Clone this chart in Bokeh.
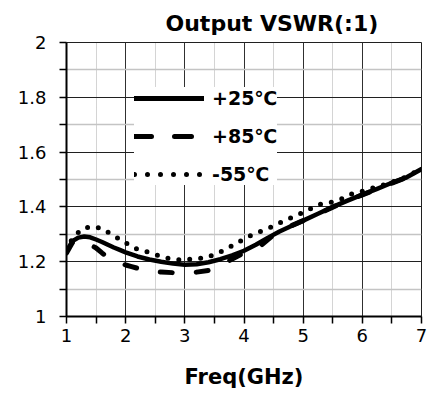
from bokeh.plotting import figure
from bokeh.models import Range1d, FixedTicker, Legend, LegendItem
from bokeh.embed import file_html
from bokeh.resources import INLINE

# ---- data ----
FREQ_25 = [1.0, 1.1, 1.2, 1.3, 1.4, 1.5, 1.6, 1.7, 1.8, 1.9, 2.0, 2.2, 2.4, 2.6, 2.8,
           3.0, 3.2, 3.4, 3.6, 3.8, 4.0, 4.2, 4.4, 4.6, 4.8, 5.0, 5.25, 5.5, 5.75,
           6.0, 6.25, 6.5, 6.75, 7.0]
VSWR_25 = [1.238, 1.275, 1.288, 1.292, 1.289, 1.281, 1.272, 1.262, 1.252, 1.243, 1.234,
           1.219, 1.208, 1.200, 1.193, 1.189, 1.191, 1.198, 1.209, 1.223, 1.240, 1.262,
           1.287, 1.310, 1.330, 1.350, 1.375, 1.400, 1.423, 1.445, 1.466, 1.488, 1.508,
           1.538]

FREQ_85 = [1.0, 1.1, 1.2, 1.3, 1.4, 1.5, 1.6, 1.7, 1.8, 1.9, 2.0, 2.1, 2.2, 2.3, 2.4,
           2.6, 2.8, 3.0, 3.2, 3.4, 3.6, 3.8, 4.0, 4.2, 4.3, 4.5, 4.7, 5.0, 5.25, 5.5,
           5.75, 6.0, 6.25, 6.5, 6.75, 7.0]
VSWR_85 = [1.232, 1.270, 1.280, 1.275, 1.262, 1.250, 1.232, 1.216, 1.205, 1.196, 1.188,
           1.182, 1.176, 1.172, 1.168, 1.162, 1.160, 1.160, 1.162, 1.168, 1.185, 1.210,
           1.232, 1.250, 1.262, 1.298, 1.322, 1.350, 1.374, 1.399, 1.422, 1.444, 1.465,
           1.487, 1.508, 1.538]

FREQ_M55 = [1.0, 1.1, 1.26, 1.44, 1.62, 1.78, 1.95, 2.1, 2.26, 2.43, 2.6, 2.78, 2.96,
            3.15, 3.34, 3.52, 3.7, 3.87, 4.05, 4.21, 4.4, 4.57, 4.75, 4.92, 5.09, 5.26,
            5.44, 5.63, 5.79, 5.96, 6.2, 6.5, 6.75, 7.0]
VSWR_M55 = [1.240, 1.285, 1.320, 1.329, 1.320, 1.296, 1.277, 1.254, 1.240, 1.233, 1.218,
            1.210, 1.205, 1.211, 1.213, 1.228, 1.246, 1.267, 1.289, 1.305, 1.320, 1.338,
            1.356, 1.372, 1.389, 1.408, 1.415, 1.427, 1.445, 1.455, 1.470, 1.490, 1.510,
            1.540]

SERIES = ["+25\u2103", "+85\u2103", "-55\u2103"]
X_TICKS = [1, 2, 3, 4, 5, 6, 7]
X_MINOR = [1.5, 2.5, 3.5, 4.5, 5.5, 6.5]
Y_TICKS = [1, 1.2, 1.4, 1.6, 1.8, 2]
Y_MINOR = [1.1, 1.3, 1.5, 1.7, 1.9]
Y_LABELS = ["1", "1.2", "1.4", "1.6", "1.8", "2"]
TITLE = "Output VSWR(:1)"
X_LABEL = "Freq(GHz)"

FONT = "DejaVu Sans"
NAN = float("nan")

p = figure(width=427, height=394, output_backend="svg", toolbar_location=None,
           x_range=Range1d(1, 7), y_range=Range1d(1, 2),
           min_border_left=66, min_border_right=6, min_border_top=42,
           min_border_bottom=78, title=TITLE)

p.background_fill_color = "white"
p.border_fill_color = "white"
p.outline_line_color = "#202020"
p.outline_line_width = 1

p.title.text_font = FONT
p.title.text_font_style = "bold"
p.title.text_font_size = "22px"
p.title.text_color = "black"
p.title.align = "left"
p.title.offset = 99
p.title.standoff = 13

# axes
p.xaxis.ticker = FixedTicker(ticks=X_TICKS, minor_ticks=X_MINOR)
p.yaxis.ticker = FixedTicker(ticks=Y_TICKS, minor_ticks=Y_MINOR)
p.yaxis.major_label_overrides = dict(zip(Y_TICKS, Y_LABELS))
for ax in (p.xaxis, p.yaxis):
    ax.axis_line_color = "black"
    ax.axis_line_width = 2
    ax.major_tick_line_color = "black"
    ax.minor_tick_line_color = "black"
    ax.major_tick_line_width = 1.5
    ax.minor_tick_line_width = 1.5
    ax.major_tick_in = 0
    ax.major_tick_out = 7
    ax.minor_tick_in = 0
    ax.minor_tick_out = 7
    ax.major_label_text_font = FONT
    ax.major_label_text_font_size = "18px"
    ax.major_label_text_color = "black"
p.yaxis.major_label_standoff = 13
p.xaxis.major_label_standoff = 5
p.xaxis.axis_label = X_LABEL
p.xaxis.axis_label_text_font = FONT
p.xaxis.axis_label_text_font_style = "bold"
p.xaxis.axis_label_text_font_size = "21px"
p.xaxis.axis_label_text_color = "black"
p.xaxis.axis_label_standoff = 20

# grids
p.xgrid.grid_line_color = "#303030"
p.xgrid.grid_line_width = 1
p.xgrid.minor_grid_line_color = "#a8a8a8"
p.xgrid.minor_grid_line_dash = "1 1"
p.xgrid.minor_grid_line_width = 1
p.ygrid.grid_line_color = "#202020"
p.ygrid.grid_line_width = 1
p.ygrid.minor_grid_line_color = "#c4c4c4"
p.ygrid.minor_grid_line_width = 1.5

# data lines
p.line(FREQ_M55, VSWR_M55, line_color="black", line_width=5, line_dash="0 11",
       line_cap="round")
p.line(FREQ_85, VSWR_85, line_color="black", line_width=5, line_dash="12 24",
       line_cap="round")
p.line(FREQ_25, VSWR_25, line_color="black", line_width=4.5, line_cap="round",
       line_join="round")

# legend-only renderers (a single NaN point, nothing drawn) carrying legend glyph styles
lg25 = p.line([NAN], [NAN], line_color="black", line_width=5, line_cap="round")
lg85 = p.line([NAN], [NAN], line_color="black", line_width=5, line_dash="17 23",
              line_cap="round")
lg55 = p.line([NAN], [NAN], line_color="black", line_width=5, line_dash="0 13",
              line_cap="round")

legend = Legend(items=[LegendItem(label=SERIES[0], renderers=[lg25]),
                       LegendItem(label=SERIES[1], renderers=[lg85]),
                       LegendItem(label=SERIES[2], renderers=[lg55])],
                location=(68, 131), orientation="vertical",
                glyph_width=70, glyph_height=20, label_height=20,
                spacing=16, padding=10, label_standoff=8, margin=0,
                background_fill_color="white", background_fill_alpha=1,
                border_line_color=None,
                label_text_font=FONT, label_text_font_style="bold",
                label_text_font_size="19px", label_text_color="black")
p.add_layout(legend)

open("out.html", "w").write(file_html(p, INLINE))
